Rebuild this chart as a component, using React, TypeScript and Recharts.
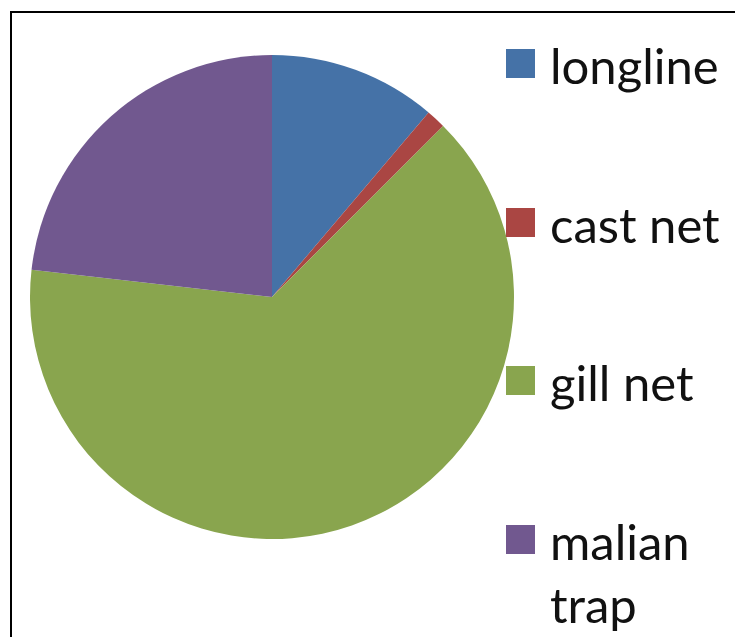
import { PieChart, Pie, Cell, Legend } from 'recharts'

const CATEGORIES = ['longline', 'cast net', 'gill net', 'malian trap']
const VALUES = [11.2, 1.3, 64.3, 23.2]
const COLORS = ['#4572A7', '#AA4643', '#89A54E', '#71588F']

const data = CATEGORIES.map((name, i) => ({ name, value: VALUES[i] }))

const ROW_TOPS = [34, 193, 351, 510]

// legend is drawn in category order, not the sorted payload order
function renderLegend() {
       return (
              <div style={{ position: 'relative', width: 735, height: 637 }}>
                     {CATEGORIES.map((name, index) => (
                            <div key={`leg-${index}`} style={{ position: 'absolute', left: 506, top: ROW_TOPS[index], width: 225 }}>
                                   <div style={{ position: 'absolute', left: 0, top: 15, width: 29, height: 29, background: COLORS[index] }} />
                                   <div style={{ position: 'absolute', left: 44, top: 0, width: 185, fontFamily: 'Lato', fontSize: 49, lineHeight: '63px', color: '#111', textAlign: 'left' }}>
                                          {name}
                                   </div>
                            </div>
                     ))}
              </div>
       )
}

export default function App() {
       return (
              <div style={{ position: 'absolute', left: 0, top: 0, width: 735, height: 637, background: '#fff', overflow: 'hidden' }}>
                     <div style={{ position: 'absolute', left: 10, top: 11, width: 740, height: 640, borderTop: '2px solid #000', borderLeft: '2px solid #000' }} />
                     <PieChart width={735} height={637} margin={{ top: 0, right: 0, bottom: 0, left: 0 }}>
                            <Pie
                                   data={data}
                                   dataKey="value"
                                   nameKey="name"
                                   cx={272}
                                   cy={297}
                                   outerRadius={242}
                                   startAngle={90}
                                   endAngle={-270}
                                   stroke="none"
                                   isAnimationActive={false}
                            >
                                   {data.map((entry, index) => (
                                          <Cell key={`cell-${index}`} fill={COLORS[index % COLORS.length]} />
                                   ))}
                            </Pie>
                            <Legend
                                   content={renderLegend}
                                   wrapperStyle={{ position: 'absolute', left: 0, top: 0, width: 735, height: 637 }}
                            />
                     </PieChart>
              </div>
       )
}
